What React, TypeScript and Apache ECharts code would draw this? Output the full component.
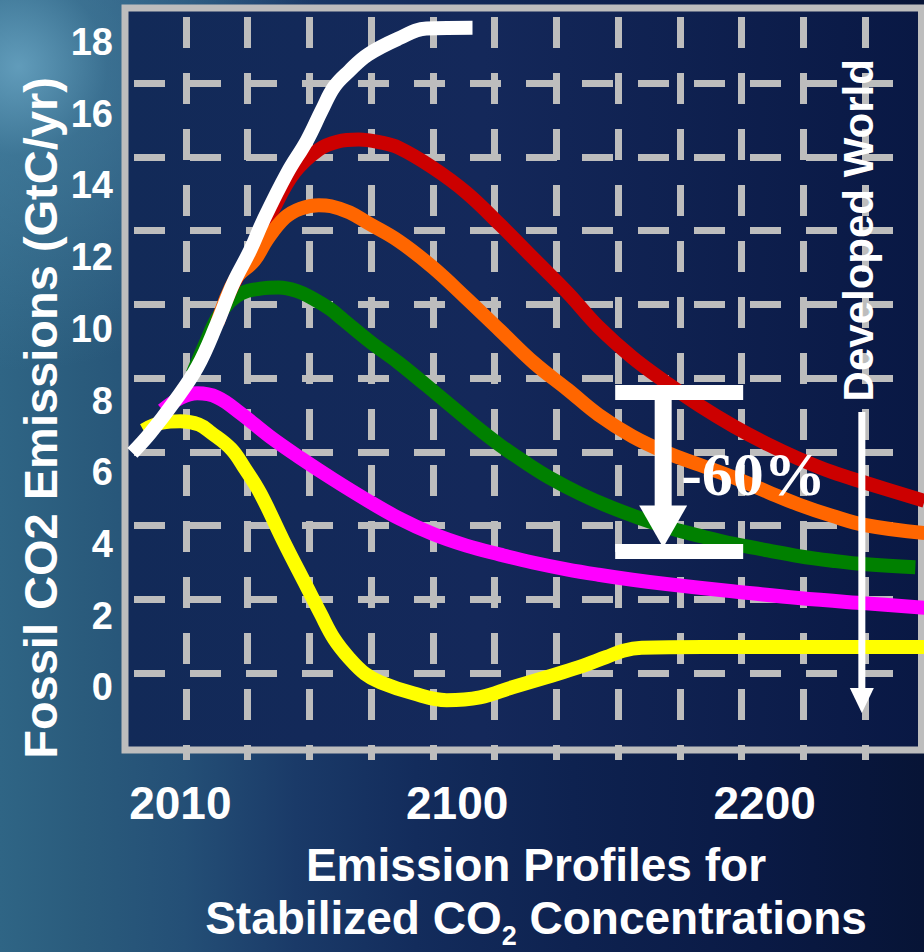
import { useEffect, useRef } from "react";
import * as echarts from "echarts";

// Axis labels
const yearTicks = [2010, 2100, 2200];
const emissionTicks = [0, 2, 4, 6, 8, 10, 12, 14, 16, 18];

// Emission profiles: [year, GtC/yr]
const whiteProfile: [number, number][] = [
  [1994.4, 6.54], [2000.2, 7.09], [2007.7, 7.93], [2015.5, 8.93], [2022, 10.16],
  [2027.2, 11.27], [2032.7, 12.19], [2037, 13.03], [2044.7, 14.34], [2051.2, 15.26],
  [2056, 16.1], [2060, 16.75], [2065, 17.2], [2071, 17.65], [2081, 18.1],
  [2090, 18.38], [2105, 18.4],
];

const redProfile: [number, number][] = [
  [2022, 10.16], [2027, 11.2], [2033, 12.1], [2040, 13.3], [2047, 14.35],
  [2055, 15.0], [2061, 15.22], [2068, 15.28], [2075, 15.2], [2081, 15.05],
  [2092, 14.5], [2103, 13.8], [2114, 12.9], [2125, 11.95], [2136, 11.0],
  [2146, 10.05], [2157, 9.2], [2168, 8.5], [2179, 7.85], [2190, 7.28],
  [2201, 6.78], [2211, 6.38], [2222, 6.0], [2233, 5.7], [2252, 5.2],
];

const orangeProfile: [number, number][] = [
  [2022, 10.16], [2028, 11.4], [2034, 11.9], [2038.3, 12.5], [2044, 13.1],
  [2049, 13.35], [2055, 13.45], [2059, 13.42], [2065, 13.25], [2071, 12.95],
  [2081, 12.45], [2092, 11.72], [2103, 10.85], [2114, 9.95], [2125, 9.05],
  [2136, 8.3], [2146, 7.6], [2157, 7.0], [2168, 6.55], [2179, 6.2],
  [2190, 5.85], [2201, 5.45], [2211, 5.1], [2222, 4.78], [2233, 4.52],
  [2252, 4.3],
];

const greenProfile: [number, number][] = [
  [2014, 8.75], [2018, 9.55], [2022, 10.3], [2026, 10.75], [2030, 11.0],
  [2036, 11.12], [2042, 11.15], [2048, 11.05], [2053, 10.85], [2058.7, 10.55],
  [2063, 10.25], [2072, 9.62], [2081, 9.05], [2090, 8.42], [2098, 7.85],
  [2106, 7.28], [2114, 6.75], [2122, 6.28], [2130, 5.85], [2140, 5.4],
  [2150, 5.02], [2160, 4.7], [2170, 4.42], [2180, 4.2], [2190, 4.0],
  [2201, 3.82], [2211, 3.66], [2222, 3.53], [2233, 3.43], [2249, 3.35],
];

const magentaProfile: [number, number][] = [
  [2004.2, 7.73], [2010, 8.07], [2015.5, 8.2], [2022, 8.09], [2029.5, 7.65],
  [2039, 7.0], [2049, 6.4], [2059.7, 5.8], [2070.7, 5.22], [2081.4, 4.7],
  [2092, 4.28], [2103, 3.95], [2114, 3.7], [2124.6, 3.48], [2135.6, 3.29],
  [2146, 3.14], [2157, 3.0], [2168, 2.88], [2189.5, 2.68], [2211, 2.49],
  [2233, 2.34], [2252, 2.22],
];

const yellowProfile: [number, number][] = [
  [1998, 7.17], [2004, 7.38], [2010, 7.42], [2016, 7.33], [2020, 7.1],
  [2026.5, 6.65], [2031, 6.1], [2036, 5.41], [2043.4, 4.1], [2051.2, 2.79],
  [2055.5, 2.07], [2060, 1.35], [2065, 0.8], [2070, 0.38], [2075, 0.14],
  [2085.7, -0.17], [2096.6, -0.36], [2107.4, -0.28], [2118, 0.0], [2129, 0.28],
  [2139.6, 0.56], [2148.4, 0.84], [2154, 1.02], [2160, 1.1], [2180, 1.12],
  [2210, 1.12], [2252, 1.12],
];

// Annotation anchors in data units
const reductionYear = 2167;
const reductionTop = 8.22;
const reductionBottom = 3.79;
const reductionLabel = "-60%";
const developedYear = 2231.6;
const developedArrowTop = 7.68;
const developedArrowTip = -0.72;
const developedLabelCenter = 12.75;

const SANS = "'Liberation Sans', Arial, Helvetica, sans-serif";
const SERIF = "'Liberation Serif', 'Times New Roman', serif";
const GRAY = "#bdbdbd";
const LINE_W = 14;

const dashed = {
  color: GRAY,
  width: 7,
  type: [31, 25] as number[],
  dashOffset: 47,
  cap: "butt" as const,
};

function profileSeries(name: string, data: [number, number][], color: string) {
  return {
    name,
    type: "line",
    xAxisIndex: 0,
    yAxisIndex: 0,
    data,
    smooth: 0.4,
    showSymbol: false,
    clip: false,
    lineStyle: { color, width: LINE_W, cap: "butt", join: "round" },
    emphasis: { disabled: true },
    z: 3,
  };
}

export default function App() {
  const ref = useRef<HTMLDivElement>(null);

  useEffect(() => {
    const el = ref.current;
    if (!el) return;
    const chart = echarts.init(el, null, { renderer: "svg" });

    chart.setOption({
      animation: false,
      backgroundColor: "transparent",
      grid: [
        {
          // main plot frame
          left: 125,
          right: 2.5,
          top: 8,
          bottom: 202,
          show: true,
          borderColor: GRAY,
          borderWidth: 7,
          backgroundColor: new echarts.graphic.LinearGradient(0, 0, 1, 0, [
            { offset: 0, color: "#122a58" },
            { offset: 0.45, color: "#14285a" },
            { offset: 1, color: "#091844" },
          ]),
          z: 0,
        },
        // horizontal dashed grid
        { left: 125, right: 2.5, top: 83, bottom: 279, show: false },
        // vertical dashed grid
        { left: 186, right: 59, top: 8, bottom: 202, show: false },
      ],
      xAxis: [
        {
          gridIndex: 0,
          type: "value",
          min: 1992,
          max: 2251,
          axisLine: { show: false },
          axisTick: { show: false },
          splitLine: { show: false },
          axisLabel: {
            customValues: yearTicks,
            formatter: (v: number) => String(v),
            color: "#ffffff",
            fontFamily: SANS,
            fontWeight: "bold",
            fontSize: 46,
            margin: 30,
          },
        },
        { gridIndex: 1, type: "value", min: 0, max: 1, show: false },
        {
          gridIndex: 2,
          type: "value",
          min: 0,
          max: 11,
          interval: 1,
          position: "bottom",
          axisLine: { show: false },
          axisLabel: { show: false },
          axisTick: { show: true, length: 10, lineStyle: { color: GRAY, width: 7 } },
          splitLine: { show: true, lineStyle: dashed },
        },
      ],
      yAxis: [
        {
          gridIndex: 0,
          type: "value",
          min: -1.75,
          max: 18.95,
          axisLine: { show: false },
          axisTick: { show: false },
          splitLine: { show: false },
          axisLabel: {
            customValues: emissionTicks,
            formatter: (v: number) => String(v),
            color: "#ffffff",
            fontFamily: SANS,
            fontWeight: "bold",
            fontSize: 38,
            margin: 12,
          },
        },
        {
          gridIndex: 1,
          type: "value",
          min: 0,
          max: 8,
          interval: 1,
          axisLine: { show: false },
          axisTick: { show: false },
          axisLabel: { show: false },
          splitLine: { show: true, lineStyle: dashed },
        },
        { gridIndex: 2, type: "value", min: 0, max: 1, show: false },
      ],
      series: [
        profileSeries("yellow", yellowProfile, "#ffff00"),
        profileSeries("magenta", magentaProfile, "#ff00ff"),
        profileSeries("green", greenProfile, "#008000"),
        profileSeries("red", redProfile, "#cc0000"),
        profileSeries("orange", orangeProfile, "#ff6600"),
        profileSeries("white", whiteProfile, "#ffffff"),
      ],
    });

    const px = (x: number, y: number) =>
      chart.convertToPixel({ gridIndex: 0 }, [x, y]) as number[];

    const [beamX, beamTop] = px(reductionYear, reductionTop);
    const [, beamBottom] = px(reductionYear, reductionBottom);
    const headTip = beamBottom - 4;
    const headBase = headTip - 42;
    const [devX, devTop] = px(developedYear, developedArrowTop);
    const [, devTip] = px(developedYear, developedArrowTip);
    const [, devLabelY] = px(developedYear, developedLabelCenter);

    chart.setOption({
      graphic: [
        // y axis title
        {
          type: "text",
          x: 40,
          y: 418,
          rotation: Math.PI / 2,
          style: {
            text: "Fossil CO2 Emissions (GtC/yr)",
            fill: "#ffffff",
            font: `bold 47px ${SANS}`,
            align: "center",
            verticalAlign: "middle",
          },
          z: 10,
        },
        // bottom caption
        {
          type: "text",
          x: 536,
          y: 865,
          style: {
            text: "Emission Profiles for",
            fill: "#ffffff",
            font: `bold 46px ${SANS}`,
            align: "center",
            verticalAlign: "middle",
          },
          z: 10,
        },
        {
          type: "text",
          x: 536,
          y: 918,
          style: {
            text: "{m|Stabilized CO}{s|2}{m| Concentrations}",
            align: "center",
            verticalAlign: "middle",
            rich: {
              m: { fontSize: 46, fontWeight: "bold", fontFamily: SANS, fill: "#ffffff", lineHeight: 56 },
              s: {
                fontSize: 27,
                fontWeight: "bold",
                fontFamily: SANS,
                fill: "#ffffff",
                lineHeight: 27,
                padding: [36, 0, 0, 0],
              },
            },
          },
          z: 10,
        },
        // reduction bracket
        {
          type: "rect",
          shape: { x: beamX - 48, y: beamTop - 7.5, width: 128, height: 15 },
          style: { fill: "#ffffff" },
          z: 10,
        },
        {
          type: "rect",
          shape: { x: beamX - 8.5, y: beamTop, width: 17, height: headBase - beamTop + 1 },
          style: { fill: "#ffffff" },
          z: 10,
        },
        {
          type: "polygon",
          shape: { points: [[beamX - 24, headBase], [beamX + 24, headBase], [beamX, headTip]] },
          style: { fill: "#ffffff" },
          z: 10,
        },
        {
          type: "rect",
          shape: { x: beamX - 48, y: beamBottom - 7.5, width: 128, height: 15 },
          style: { fill: "#ffffff" },
          z: 10,
        },
        {
          type: "text",
          x: beamX + 18,
          y: (beamTop + beamBottom) / 2 + 2,
          style: {
            text: reductionLabel,
            fill: "#ffffff",
            font: `bold 62px ${SERIF}`,
            align: "left",
            verticalAlign: "middle",
          },
          z: 11,
        },
        // developed world arrow
        {
          type: "text",
          x: devX - 3,
          y: devLabelY,
          rotation: Math.PI / 2,
          style: {
            text: "Developed World",
            fill: "#ffffff",
            font: `bold 42px ${SANS}`,
            align: "center",
            verticalAlign: "middle",
          },
          z: 10,
        },
        {
          type: "line",
          shape: { x1: devX, y1: devTop, x2: devX, y2: devTip - 22 },
          style: { stroke: "#ffffff", lineWidth: 7 },
          z: 10,
        },
        {
          type: "polygon",
          shape: { points: [[devX - 12, devTip - 25], [devX + 12, devTip - 25], [devX, devTip]] },
          style: { fill: "#ffffff" },
          z: 10,
        },
      ],
    });

    return () => chart.dispose();
  }, []);

  return (
    <div
      ref={ref}
      style={{
        position: "fixed",
        left: 0,
        top: 0,
        width: 924,
        height: 952,
        background:
          "radial-gradient(circle at 2% 7%, rgba(110,170,200,0.8) 0%, rgba(80,140,172,0.45) 7%, rgba(60,115,150,0) 24%)," +
          "linear-gradient(90deg, #2f6585 0%, #2a5b7c 9%, #244f76 20%, #1a3a68 32%, #132c5c 45%, #0e2250 62%, #0a1a45 82%, #071436 100%)",
      }}
    />
  );
}
